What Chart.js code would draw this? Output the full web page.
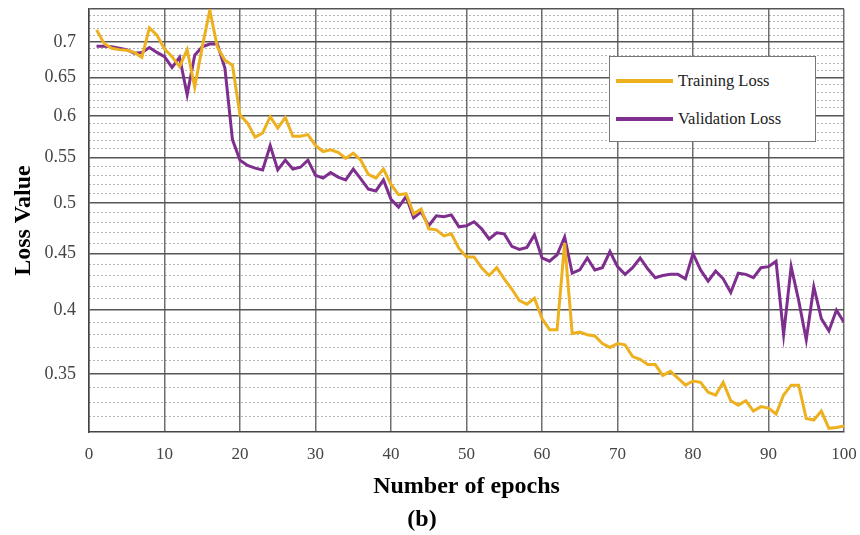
<!DOCTYPE html>
<html>
<head>
<meta charset="utf-8">
<title>Loss curves</title>
<script src="https://cdn.jsdelivr.net/npm/chart.js@4.4.0/dist/chart.umd.min.js"></script>
<style>
  html, body { margin: 0; padding: 0; background: #fff; }
  #wrap { position: relative; width: 860px; height: 535px; }
  #lossLegend {
    position: absolute; left: 609px; top: 56px; width: 207px; height: 86px;
    box-sizing: border-box; background: #fff; border: 1px solid #777;
    font-family: "Liberation Serif", "Times New Roman", serif; font-size: 16.5px; color: #222;
  }
  #lossLegend .item { position: absolute; left: 6px; height: 20px; display: flex; align-items: center; white-space: nowrap; }
  #lossLegend .swatch { width: 57px; height: 4px; margin-right: 5px; }
</style>
</head>
<body>
<div id="wrap">
  <canvas id="lossChart" width="860" height="535"></canvas>
  <div id="lossLegend"></div>
</div>
<script>
"use strict";
const trainLoss = [
  0.718, 0.698, 0.691, 0.689, 0.688, 0.685, 0.678, 0.721, 0.710, 0.690,
  0.679, 0.665, 0.689, 0.637, 0.693, 0.748, 0.693, 0.674, 0.667, 0.601,
  0.591, 0.574, 0.579, 0.599, 0.585, 0.598, 0.575, 0.575, 0.577, 0.564,
  0.557, 0.559, 0.556, 0.549, 0.555, 0.547, 0.531, 0.527, 0.537, 0.520,
  0.509, 0.510, 0.489, 0.494, 0.474, 0.473, 0.467, 0.469, 0.455, 0.447,
  0.447, 0.437, 0.430, 0.437, 0.427, 0.418, 0.408, 0.405, 0.410, 0.393,
  0.384, 0.384, 0.460, 0.381, 0.382, 0.380, 0.379, 0.373, 0.370, 0.373,
  0.372, 0.363, 0.361, 0.357, 0.357, 0.349, 0.352, 0.347, 0.342, 0.345,
  0.344, 0.337, 0.335, 0.344, 0.331, 0.328, 0.331, 0.324, 0.327, 0.326,
  0.322, 0.335, 0.342, 0.342, 0.319, 0.318, 0.324, 0.3125, 0.313, 0.314
];
const valLoss = [
  0.694, 0.694, 0.693, 0.691, 0.689, 0.684, 0.685, 0.692, 0.685, 0.679,
  0.664, 0.678, 0.627, 0.681, 0.693, 0.697, 0.697, 0.663, 0.571, 0.547,
  0.541, 0.538, 0.536, 0.564, 0.536, 0.547, 0.537, 0.539, 0.547, 0.530,
  0.527, 0.533, 0.528, 0.525, 0.537, 0.526, 0.515, 0.513, 0.525, 0.504,
  0.496, 0.507, 0.485, 0.491, 0.477, 0.487, 0.486, 0.488, 0.476, 0.477,
  0.481, 0.474, 0.464, 0.470, 0.469, 0.457, 0.454, 0.456, 0.468, 0.446,
  0.443, 0.449, 0.466, 0.432, 0.435, 0.446, 0.435, 0.437, 0.452, 0.438,
  0.431, 0.437, 0.446, 0.436, 0.428, 0.430, 0.431, 0.431, 0.427, 0.450,
  0.435, 0.425, 0.434, 0.427, 0.415, 0.432, 0.431, 0.428, 0.437, 0.438,
  0.443, 0.380, 0.438, 0.408, 0.376, 0.420, 0.393, 0.383, 0.400, 0.390
];
// labelled y values, and every horizontal grid line (dotted ones in between)
const yLabelValues = [0.35, 0.4, 0.45, 0.5, 0.55, 0.6, 0.65, 0.7];
const yGridValues = [
  0.32, 0.33, 0.34, 0.35, 0.36, 0.37, 0.38, 0.39, 0.4, 0.41,
  0.42, 0.43, 0.44, 0.45, 0.46, 0.47, 0.48, 0.49, 0.5, 0.51,
  0.52, 0.53, 0.54, 0.55, 0.56, 0.57, 0.58, 0.59, 0.6, 0.61,
  0.62, 0.63, 0.64, 0.65, 0.66, 0.67, 0.68, 0.69, 0.7, 0.71,
  0.72, 0.73, 0.74, 0.75
];
const yMin = 0.312;
const yMax = 0.75;
const seriesNames = ["Training Loss", "Validation Loss"];
const seriesColors = ["#EDB120", "#7E2F8E"];

const serif = "'Liberation Serif', 'Times New Roman', serif";
const labelSet = new Set(yLabelValues);
const isSolid = (v) => labelSet.has(v) || v === yMax;

function toPoints(values) {
  return values.map((v, i) => ({ x: i + 1, y: v }));
}

const ctx = document.getElementById("lossChart").getContext("2d");
const chart = new Chart(ctx, {
  type: "line",
  data: {
    datasets: [trainLoss, valLoss].map((vals, i) => ({
      label: seriesNames[i],
      data: toPoints(vals),
      borderColor: seriesColors[i],
      backgroundColor: seriesColors[i],
      borderWidth: 3,
      pointRadius: 0,
      tension: 0,
      fill: false,
    })),
  },
  options: {
    responsive: false,
    animation: false,
    devicePixelRatio: 1,
    layout: { padding: { top: 9, right: 16, left: 0, bottom: 0 } },
    plugins: {
      legend: { display: false },
      tooltip: { enabled: false },
      title: {
        display: true,
        position: "bottom",
        text: "(b)",
        color: "#000",
        font: { family: serif, size: 24, weight: "bold" },
        padding: { top: 0, bottom: 1 },
      },
    },
    scales: {
      x: {
        type: "linear",
        min: 0,
        max: 100,
        afterFit: (scale) => {
          scale.height = 73;
          scale.paddingLeft = 0;
          scale.paddingRight = 0;
        },
        ticks: {
          stepSize: 10,
          maxRotation: 0,
          padding: 12,
          color: "#444",
          font: { family: serif, size: 17 },
        },
        grid: { drawTicks: false, color: "#6e6e6e", lineWidth: 1.5 },
        border: { color: "#444", width: 1.5 },
        title: {
          display: true,
          text: "Number of epochs",
          color: "#000",
          font: { family: serif, size: 24, weight: "bold" },
          padding: { top: 2, bottom: 4 },
        },
      },
      y: {
        type: "logarithmic",
        min: yMin,
        max: yMax,
        afterBuildTicks: (scale) => {
          scale.ticks = yGridValues.map((v) => ({ value: v }));
        },
        afterFit: (scale) => {
          scale.width = 89;
          scale.paddingTop = 0;
          scale.paddingBottom = 0;
        },
        ticks: {
          autoSkip: false,
          padding: 13,
          color: "#444",
          font: { family: serif, size: 18 },
          callback: (v) => (labelSet.has(v) ? String(v) : ""),
        },
        grid: {
          drawTicks: false,
          color: (c) => (c.tick && isSolid(c.tick.value) ? "#555" : "#666"),
          lineWidth: (c) => (c.tick && isSolid(c.tick.value) ? 1.5 : 1),
        },
        border: {
          color: "#444",
          width: 1.5,
          dash: (c) => (c.tick && !isSolid(c.tick.value) ? [1, 3] : []),
        },
        title: {
          display: true,
          text: "Loss Value",
          color: "#000",
          font: { family: serif, size: 24, weight: "bold" },
          padding: { top: 9, bottom: 0 },
        },
      },
    },
  },
});

// legend box drawn as html over the plot
const legendBox = document.getElementById("lossLegend");
chart.data.datasets.forEach((ds, i) => {
  const row = document.createElement("div");
  row.className = "item";
  row.style.top = (14 + i * 38) + "px";
  const sw = document.createElement("span");
  sw.className = "swatch";
  sw.style.background = ds.borderColor;
  const txt = document.createElement("span");
  txt.textContent = ds.label;
  row.appendChild(sw);
  row.appendChild(txt);
  legendBox.appendChild(row);
});
</script>
</body>
</html>
